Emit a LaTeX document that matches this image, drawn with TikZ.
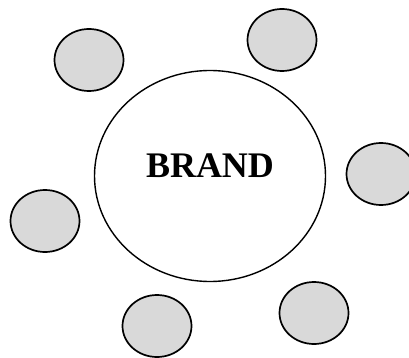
\documentclass[tikz,border=0pt]{standalone}
\usepackage{fontspec}
\setmainfont{Liberation Serif}
\usepackage{xcolor}
\usetikzlibrary{shapes.geometric,positioning}

\begin{document}
\begin{tikzpicture}[
  x=1pt, y=-1pt,
  core/.style={ellipse, draw, line width=1.4pt, fill=white, inner sep=0pt, minimum width=231pt, minimum height=211pt},
  sat/.style={ellipse, draw, line width=1.7pt, fill=black!15, inner sep=0pt, minimum width=69pt, minimum height=62pt},
  word/.style={font=\bfseries\fontsize{36}{40}\selectfont, inner sep=0pt}
]
\useasboundingbox (0,0) rectangle (409,358);
\node[core] (brand) at (210,176) {};
\node[word, yshift=10.5pt] (lbl) at (brand.center) {BRAND};
\node[sat] (nw) at (89,60)    {};
\node[sat] (ne) at (282,40)   {};
\node[sat] (e)  at (381,174)  {};
\node[sat] (w)  at (45,221)   {};
\node[sat] (sw) at (157,326)  {};
\node[sat] (se) at (314,313)  {};
\end{tikzpicture}
\end{document}
